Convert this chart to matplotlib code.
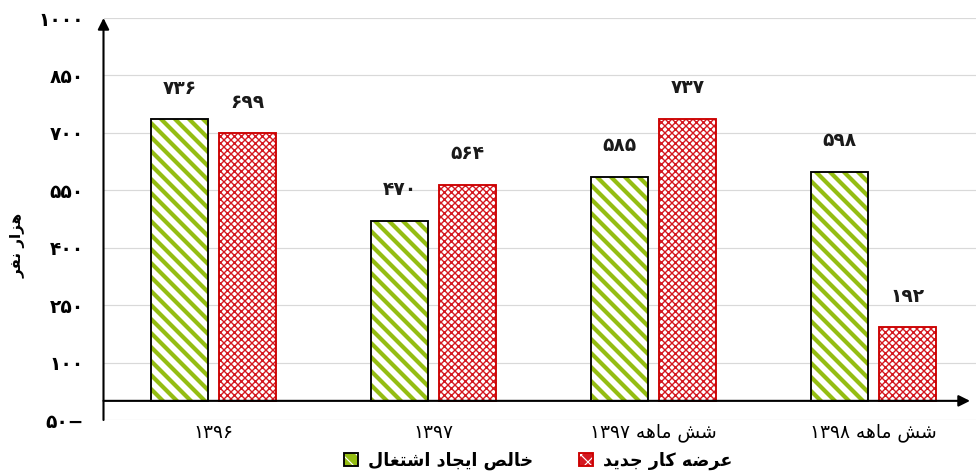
import numpy as np
import matplotlib
matplotlib.use("Agg")
import matplotlib.pyplot as plt
from matplotlib.patches import Patch
from matplotlib.legend_handler import HandlerTuple

# ---------------- data ----------------
categories = ["۱۳۹۶", "۱۳۹۷", "شش ماهه ۱۳۹۷", "شش ماهه ۱۳۹۸"]
net_jobs = [736, 470, 585, 598]          # خالص ایجاد اشتغال
new_supply = [699, 564, 737, 192]        # عرضه کار جدید
series_names = ["خالص ایجاد اشتغال", "عرضه کار جدید"]
y_ticks = [-50, 100, 250, 400, 550, 700, 850, 1000]
y_label = "هزار نفر"

# ---------------- minimal Persian shaping ----------------
DUAL = {
    'ت': (0xFE95, 0xFE96, 0xFE97, 0xFE98), 'ج': (0xFE9D, 0xFE9E, 0xFE9F, 0xFEA0),
    'خ': (0xFEA5, 0xFEA6, 0xFEA7, 0xFEA8), 'ش': (0xFEB5, 0xFEB6, 0xFEB7, 0xFEB8),
    'ص': (0xFEB9, 0xFEBA, 0xFEBB, 0xFEBC), 'ض': (0xFEBD, 0xFEBE, 0xFEBF, 0xFEC0),
    'ع': (0xFEC9, 0xFECA, 0xFECB, 0xFECC), 'غ': (0xFECD, 0xFECE, 0xFECF, 0xFED0),
    'ف': (0xFED1, 0xFED2, 0xFED3, 0xFED4), 'ل': (0xFEDD, 0xFEDE, 0xFEDF, 0xFEE0),
    'م': (0xFEE1, 0xFEE2, 0xFEE3, 0xFEE4), 'ن': (0xFEE5, 0xFEE6, 0xFEE7, 0xFEE8),
    'ه': (0xFEE9, 0xFEEA, 0xFEEB, 0xFEEC), 'ک': (0xFB8E, 0xFB8F, 0xFB90, 0xFB91),
    'ی': (0xFBFC, 0xFBFD, 0xFBFE, 0xFBFF),
}
RIGHT = {'ا': (0xFE8D, 0xFE8E), 'د': (0xFEA9, 0xFEAA),
         'ر': (0xFEAD, 0xFEAE), 'ز': (0xFEAF, 0xFEB0)}
PDIG = "۰۱۲۳۴۵۶۷۸۹"


def shape(text):
    chars = list(text)
    out = []
    for i, c in enumerate(chars):
        prev = chars[i - 1] if i > 0 else None
        nxt = chars[i + 1] if i + 1 < len(chars) else None
        jp = prev in DUAL
        if c in DUAL:
            jn = nxt in DUAL or nxt in RIGHT
            iso, fin, ini, med = DUAL[c]
            cp = med if (jp and jn) else fin if jp else ini if jn else iso
            out.append(chr(cp))
        elif c in RIGHT:
            iso, fin = RIGHT[c]
            out.append(chr(fin if jp else iso))
        else:
            out.append(c)
    # visual reorder: RTL, but keep digit runs LTR
    runs, cur, cur_d = [], "", None
    for c in out:
        d = c in PDIG or c.isdigit()
        if cur and d != cur_d:
            runs.append((cur, cur_d))
            cur = ""
        cur += c
        cur_d = d
    if cur:
        runs.append((cur, cur_d))
    return "".join(r if d else r[::-1] for r, d in reversed(runs))


def fa_num(v):
    s = "".join(PDIG[int(ch)] for ch in str(abs(int(v))))
    return s + "−" if v < 0 else s


# ---------------- figure ----------------
DPI = 84
W, H = 976, 475
plt.rcParams['font.family'] = ['DejaVu Sans']
fig = plt.figure(figsize=(W / DPI, H / DPI), dpi=DPI)
left_px, right_px, top_px, bot_px = 103.5, 976, 18, 420
ax = fig.add_axes([left_px / W, 1 - bot_px / H, (right_px - left_px) / W, (bot_px - top_px) / H])
cat_w = 220.0
ax.set_xlim(-0.5, -0.5 + (right_px - left_px) / cat_w)
ax.set_ylim(-50, 1000)

x = np.arange(len(categories))
bw = 57 / cat_w
off = 34 / cat_w

green = '#94BD12'
red = '#D41820'

with plt.rc_context({'hatch.linewidth': 3.6}):
    ax.bar(x - off, net_jobs, bw, color='white', edgecolor=green, hatch='\\\\', linewidth=0, zorder=2)
ax.bar(x - off, net_jobs, bw, fill=False, edgecolor='black', linewidth=1.6, zorder=3)
with plt.rc_context({'hatch.linewidth': 1.2}):
    ax.bar(x + off, new_supply, bw, color='white', edgecolor=red, hatch='xxxx', linewidth=0, zorder=2)
ax.bar(x + off, new_supply, bw, fill=False, edgecolor='#CC0000', linewidth=1.6, zorder=3)

# value labels
lbl_off = 31 / DPI * 72
for xi, v in zip(x - off, net_jobs):
    ax.annotate(fa_num(v), (xi, v), xytext=(0, lbl_off), textcoords='offset points',
                ha='center', va='center', fontsize=16, fontweight='bold', color='#1a1a1a')
for xi, v in zip(x + off, new_supply):
    ax.annotate(fa_num(v), (xi, v), xytext=(0, lbl_off), textcoords='offset points',
                ha='center', va='center', fontsize=16, fontweight='bold', color='#1a1a1a')

# grid / ticks
ax.set_yticks(y_ticks, [fa_num(t) for t in y_ticks])
for lab in ax.get_yticklabels():
    lab.set_fontweight('bold')
    lab.set_fontsize(16)
ax.tick_params(axis='y', length=0, pad=17)
ax.yaxis.grid(True, color='#D9D9D9', linewidth=1.0, zorder=0)
ax.set_axisbelow(True)
ax.set_xticks(x, [shape(c) for c in categories])
ax.tick_params(axis='x', length=0, pad=3, labelsize=16)
for s in ax.spines.values():
    s.set_visible(False)

# axis lines with arrows
ax.annotate('', xy=(-0.5, 1000), xytext=(-0.5, -50),
            arrowprops=dict(arrowstyle='-|>', color='black', lw=1.8, mutation_scale=20,
                            shrinkA=0, shrinkB=0), annotation_clip=False, zorder=5)
x_tip = -0.5 + (970 - left_px) / cat_w
ax.annotate('', xy=(x_tip, 0), xytext=(-0.5, 0),
            arrowprops=dict(arrowstyle='-|>', color='black', lw=1.8, mutation_scale=20,
                            shrinkA=0, shrinkB=0), annotation_clip=False, zorder=5)

# y label
fig.text(18 / W, 1 - 245 / H, shape(y_label), rotation=90, ha='center', va='center',
         fontsize=13, fontweight='bold')

# legend
with plt.rc_context({'hatch.linewidth': 2.5}):
    hg = Patch(facecolor=green, edgecolor='white', hatch='\\\\', linewidth=0)
with plt.rc_context({'hatch.linewidth': 0.9}):
    hr = Patch(facecolor=red, edgecolor='white', hatch='xx', linewidth=0)
og = Patch(fill=False, edgecolor='black', linewidth=1.6)
orr = Patch(fill=False, edgecolor='#CC0000', linewidth=1.6)
fig.legend([(hg, og), (hr, orr)], [shape(n) for n in series_names],
           handler_map={tuple: HandlerTuple(ndivide=1)},
           loc='center', bbox_to_anchor=(538 / W, 1 - 461 / H), ncol=2, frameon=False,
           handlelength=0.8, handleheight=0.8, handletextpad=0.6, columnspacing=2.6,
           prop={'size': 15, 'weight': 'bold'})

fig.savefig('out.png', dpi=DPI)
